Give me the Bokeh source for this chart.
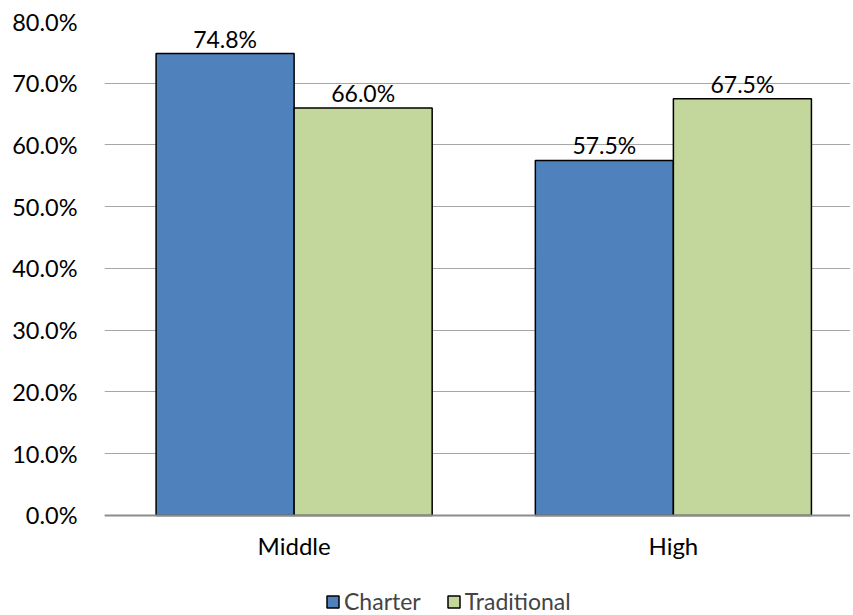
from bokeh.plotting import figure
from bokeh.models import (ColumnDataSource, NumeralTickFormatter, FixedTicker, Legend,
                          LegendItem, LabelSet, Span)
from bokeh.core.properties import value
from bokeh.transform import dodge
from bokeh.embed import file_html
from bokeh.resources import INLINE

categories = ["Middle", "High"]
charter = [0.748, 0.575]
traditional = [0.660, 0.675]
y_ticks = [0.0, 0.1, 0.2, 0.3, 0.4, 0.5, 0.6, 0.7, 0.8]

FONT = "Lato"
BLUE = "#4F81BD"
GREEN = "#C3D69B"

xs = list(range(len(categories)))
src = ColumnDataSource(dict(
    x=xs, charter=charter, traditional=traditional,
    charter_lbl=[f"{v*100:.1f}%" for v in charter],
    trad_lbl=[f"{v*100:.1f}%" for v in traditional],
))

p = figure(width=850, height=615, output_backend="svg", toolbar_location=None,
           x_range=(-0.5, 1.467), y_range=(-0.162, 0.8),
           min_border_left=104, min_border_right=0, min_border_top=21, min_border_bottom=0)
p.outline_line_color = None
p.background_fill_color = "white"

bw = 0.364
r1 = p.vbar(x=dodge("x", -bw / 2), top="charter", width=bw, source=src,
            fill_color=BLUE, line_color="black", line_width=1.5)
r2 = p.vbar(x=dodge("x", bw / 2), top="traditional", width=bw, source=src,
            fill_color=GREEN, line_color="black", line_width=1.5)

for col, lbl, off in (("charter", "charter_lbl", -bw / 2), ("traditional", "trad_lbl", bw / 2)):
    p.add_layout(LabelSet(x=dodge("x", off), y=col, text=lbl, source=src,
                          text_align="center", text_baseline="bottom", y_offset=1,
                          text_font=value(FONT), text_font_size="23px", text_color="black"))

# axes
p.yaxis.ticker = FixedTicker(ticks=y_ticks)
p.yaxis.formatter = NumeralTickFormatter(format="0.0%")
p.yaxis.axis_line_color = None
p.yaxis.major_tick_line_color = None
p.yaxis.minor_tick_line_color = None
p.yaxis.major_label_standoff = 21
p.yaxis.major_label_text_font = FONT
p.yaxis.major_label_text_font_size = "23.5px"
p.yaxis.major_label_text_color = "black"

p.xaxis.fixed_location = 0
p.xaxis.ticker = FixedTicker(ticks=xs)
p.xaxis.major_label_overrides = {i: c for i, c in enumerate(categories)}
p.xaxis.axis_line_color = None
p.xaxis.major_tick_line_color = None
p.xaxis.minor_tick_line_color = None
p.xaxis.major_label_standoff = 10
p.xaxis.major_label_text_font = FONT
p.xaxis.major_label_text_font_size = "24px"
p.xaxis.major_label_text_color = "black"

p.xgrid.grid_line_color = None
p.ygrid.ticker = FixedTicker(ticks=y_ticks)
p.ygrid.grid_line_color = "#A6A6A6"
p.ygrid.grid_line_width = 1.2

base = Span(location=0, dimension="width", line_color="#8C8C8C", line_width=2)
p.add_layout(base)

legend = Legend(items=[LegendItem(label="Charter", renderers=[r1]),
                       LegendItem(label="Traditional", renderers=[r2])],
                orientation="horizontal", location=(221, 0),
                margin=0, padding=0, spacing=25, label_standoff=4,
                glyph_width=15, glyph_height=15,
                label_text_font=FONT, label_text_font_size="23px",
                background_fill_alpha=0, border_line_color=None)
p.add_layout(legend, "center")

open("out.html", "w").write(file_html(p, INLINE))
